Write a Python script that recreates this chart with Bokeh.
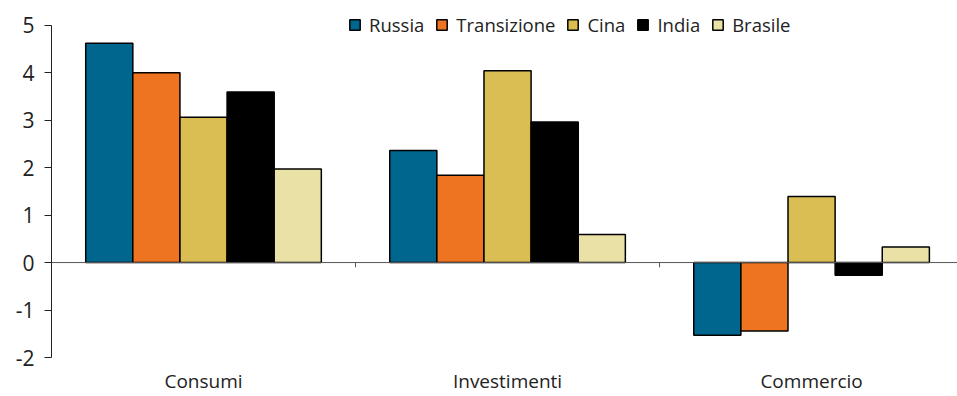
from bokeh.plotting import figure
from bokeh.models import FixedTicker, Legend, LegendItem, Span, ColumnDataSource
from bokeh.embed import file_html
from bokeh.resources import INLINE

categories = ["Consumi", "Investimenti", "Commercio"]
series = ["Russia", "Transizione", "Cina", "India", "Brasile"]
russia = [4.62, 2.36, -1.53]
transizione = [4.00, 1.84, -1.44]
cina = [3.06, 4.04, 1.39]
india = [3.59, 2.96, -0.27]
brasile = [1.97, 0.59, 0.33]
values = [russia, transizione, cina, india, brasile]
colors = ["#00668E", "#EF7422", "#DBBE53", "#000000", "#EAE1A6"]
y_ticks = [-2, -1, 0, 1, 2, 3, 4, 5]

FONT = "Open Sans"
bar_w = 0.155

p = figure(width=957, height=396, output_backend="svg", toolbar_location=None,
           x_range=(0, 2.98), y_range=(-2, 5.52),
           min_border_left=51, min_border_right=0, min_border_top=0, min_border_bottom=39)
p.outline_line_color = None
p.xgrid.visible = False
p.ygrid.visible = False
p.background_fill_color = "white"

items = []
for j, (name, vals, col) in enumerate(zip(series, values, colors)):
    xs = [i + 0.5 + (j - 2) * bar_w for i in range(len(categories))]
    src = ColumnDataSource(dict(x=xs, top=vals, bottom=[0] * len(vals)))
    r = p.vbar(x="x", top="top", bottom="bottom", width=bar_w, source=src,
               fill_color=col, line_color="black", line_width=1.5)
    items.append(LegendItem(label=name, renderers=[r]))

# zero line
p.add_layout(Span(location=0, dimension="width", line_color="#555555", line_width=1))
# category boundary ticks on zero line
bx = list(range(1, len(categories)))
p.segment(x0=bx, x1=bx, y0=[0] * len(bx), y1=[-0.1] * len(bx), line_color="#555555", line_width=1)

# y axis
p.yaxis.bounds = (y_ticks[0], y_ticks[-1])
p.yaxis.ticker = FixedTicker(ticks=y_ticks)
p.yaxis.major_label_overrides = {t: str(t) for t in y_ticks}
p.yaxis.axis_line_color = "#222222"
p.yaxis.major_tick_line_color = "#222222"
p.yaxis.major_tick_out = 7
p.yaxis.major_tick_in = 0
p.yaxis.minor_tick_line_color = None
p.yaxis.major_label_text_font = FONT
p.yaxis.major_label_text_font_size = "21px"
p.yaxis.major_label_text_color = "#222222"
p.yaxis.major_label_standoff = 10

# x axis
p.xaxis.ticker = FixedTicker(ticks=[i + 0.5 for i in range(len(categories))])
p.xaxis.major_label_overrides = {i + 0.5: c for i, c in enumerate(categories)}
p.xaxis.axis_line_color = None
p.xaxis.major_tick_line_color = None
p.xaxis.major_tick_out = 0
p.xaxis.major_tick_in = 0
p.xaxis.minor_tick_line_color = None
p.xaxis.major_label_text_font = FONT
p.xaxis.major_label_text_font_size = "19px"
p.xaxis.major_label_text_color = "#222222"
p.xaxis.major_label_standoff = 10

legend = Legend(items=items, orientation="horizontal", location=(297, 320),
                border_line_color=None, background_fill_alpha=0,
                padding=0, margin=0, spacing=11,
                label_text_font=FONT, label_text_font_size="18.5px", label_text_color="#222222",
                glyph_width=13, glyph_height=13, label_standoff=8)
p.add_layout(legend)

open("out.html", "w").write(file_html(p, INLINE))
